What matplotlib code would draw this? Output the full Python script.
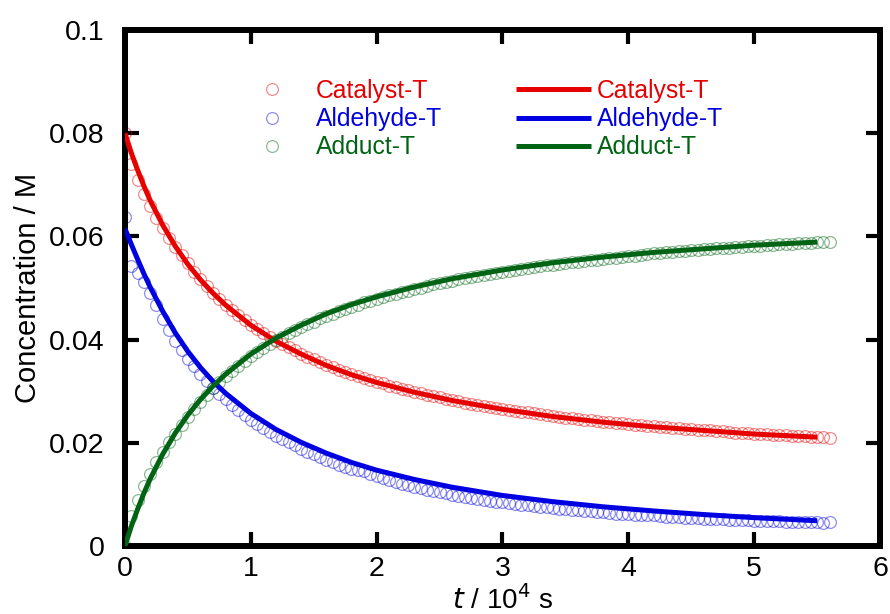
import numpy as np
import matplotlib
matplotlib.use("Agg")
import matplotlib.pyplot as plt
from matplotlib.lines import Line2D

plt.rcParams["font.family"] = ["Liberation Sans", "DejaVu Sans"]

# measurement times (10^4 s), one sample every 500 s
t_data = np.round(np.arange(0, 5.601, 0.05), 3)

catalyst_data = [
    0.0800, 0.0740, 0.0709, 0.0682, 0.0658, 0.0636, 0.0616, 0.0597, 0.0580, 0.0564,
    0.0548, 0.0532, 0.0518, 0.0504, 0.0491, 0.0479, 0.0468, 0.0458, 0.0448, 0.0438,
    0.0429, 0.0421, 0.0413, 0.0405, 0.0398, 0.0391, 0.0385, 0.0379, 0.0373, 0.0367,
    0.0362, 0.0356, 0.0351, 0.0347, 0.0342, 0.0338, 0.0334, 0.0330, 0.0326, 0.0322,
    0.0318, 0.0315, 0.0311, 0.0308, 0.0305, 0.0302, 0.0299, 0.0296, 0.0293, 0.0290,
    0.0288, 0.0285, 0.0283, 0.0281, 0.0278, 0.0276, 0.0274, 0.0272, 0.0270, 0.0268,
    0.0266, 0.0264, 0.0262, 0.0260, 0.0259, 0.0257, 0.0255, 0.0254, 0.0252, 0.0251,
    0.0249, 0.0248, 0.0247, 0.0245, 0.0244, 0.0243, 0.0241, 0.0240, 0.0239, 0.0238,
    0.0237, 0.0235, 0.0234, 0.0233, 0.0232, 0.0231, 0.0230, 0.0229, 0.0228, 0.0227,
    0.0226, 0.0225, 0.0224, 0.0224, 0.0223, 0.0222, 0.0221, 0.0220, 0.0220, 0.0219,
    0.0218, 0.0217, 0.0217, 0.0216, 0.0215, 0.0215, 0.0214, 0.0213, 0.0213, 0.0212,
    0.0212, 0.0211, 0.0210,
]
aldehyde_data = [
    0.0638, 0.0543, 0.0529, 0.0512, 0.0490, 0.0468, 0.0440, 0.0418, 0.0398, 0.0380,
    0.0363, 0.0348, 0.0333, 0.0320, 0.0307, 0.0295, 0.0284, 0.0274, 0.0264, 0.0254,
    0.0245, 0.0237, 0.0229, 0.0221, 0.0214, 0.0207, 0.0201, 0.0195, 0.0189, 0.0183,
    0.0178, 0.0172, 0.0167, 0.0163, 0.0158, 0.0153, 0.0149, 0.0148, 0.0146, 0.0140,
    0.0135, 0.0131, 0.0128, 0.0124, 0.0121, 0.0118, 0.0115, 0.0112, 0.0109, 0.0107,
    0.0104, 0.0102, 0.0099, 0.0097, 0.0095, 0.0093, 0.0092, 0.0090, 0.0088, 0.0086,
    0.0085, 0.0083, 0.0082, 0.0080, 0.0079, 0.0078, 0.0076, 0.0075, 0.0074, 0.0072,
    0.0071, 0.0070, 0.0069, 0.0068, 0.0067, 0.0066, 0.0065, 0.0064, 0.0063, 0.0062,
    0.0062, 0.0061, 0.0060, 0.0060, 0.0060, 0.0058, 0.0057, 0.0056, 0.0056, 0.0055,
    0.0054, 0.0054, 0.0053, 0.0053, 0.0052, 0.0052, 0.0051, 0.0051, 0.0050, 0.0050,
    0.0049, 0.0049, 0.0049, 0.0048, 0.0048, 0.0047, 0.0047, 0.0047, 0.0046, 0.0046,
    0.0046, 0.0045, 0.0046,
]
adduct_data = [
    0.0000, 0.0058, 0.0089, 0.0116, 0.0140, 0.0162, 0.0182, 0.0201, 0.0218, 0.0234,
    0.0250, 0.0265, 0.0279, 0.0293, 0.0306, 0.0318, 0.0329, 0.0339, 0.0349, 0.0359,
    0.0368, 0.0376, 0.0384, 0.0392, 0.0399, 0.0406, 0.0412, 0.0418, 0.0424, 0.0430,
    0.0435, 0.0441, 0.0446, 0.0450, 0.0455, 0.0459, 0.0464, 0.0468, 0.0472, 0.0475,
    0.0479, 0.0483, 0.0486, 0.0489, 0.0492, 0.0495, 0.0498, 0.0501, 0.0504, 0.0507,
    0.0509, 0.0512, 0.0514, 0.0517, 0.0519, 0.0521, 0.0523, 0.0525, 0.0527, 0.0529,
    0.0531, 0.0533, 0.0535, 0.0537, 0.0539, 0.0540, 0.0542, 0.0544, 0.0545, 0.0547,
    0.0548, 0.0550, 0.0551, 0.0553, 0.0554, 0.0555, 0.0557, 0.0558, 0.0559, 0.0561,
    0.0562, 0.0563, 0.0564, 0.0566, 0.0567, 0.0568, 0.0569, 0.0570, 0.0571, 0.0572,
    0.0573, 0.0574, 0.0575, 0.0576, 0.0577, 0.0578, 0.0578, 0.0579, 0.0580, 0.0581,
    0.0582, 0.0582, 0.0583, 0.0584, 0.0585, 0.0585, 0.0586, 0.0587, 0.0587, 0.0588,
    0.0589, 0.0589, 0.0590,
]

# fitted curves
t_fit = [0, 0.025, 0.05, 0.1, 0.15, 0.2, 0.3, 0.4, 0.5, 0.6, 0.7, 0.8, 1.0, 1.2,
         1.4, 1.6, 1.8, 2.0, 2.3, 2.6, 3.0, 3.4, 3.8, 4.2, 4.6, 5.0, 5.5]
catalyst_fit = [0.0800, 0.0781, 0.0762, 0.0729, 0.0698, 0.0670, 0.0622, 0.0581, 0.0546,
                0.0516, 0.0490, 0.0467, 0.0428, 0.0397, 0.0372, 0.0350, 0.0332, 0.0317,
                0.0298, 0.0282, 0.0265, 0.0251, 0.0240, 0.0231, 0.0224, 0.0217, 0.0211]
aldehyde_fit = [0.0615, 0.0600, 0.0585, 0.0556, 0.0528, 0.0502, 0.0455, 0.0413, 0.0377,
                0.0346, 0.0319, 0.0296, 0.0257, 0.0226, 0.0201, 0.0180, 0.0162, 0.0147,
                0.0129, 0.0114, 0.0098, 0.0086, 0.0076, 0.0068, 0.0061, 0.0055, 0.0049]
adduct_fit = [0.0000, 0.0019, 0.0038, 0.0071, 0.0102, 0.0130, 0.0178, 0.0219, 0.0254,
              0.0284, 0.0310, 0.0333, 0.0372, 0.0403, 0.0428, 0.0450, 0.0468, 0.0483,
              0.0502, 0.0518, 0.0535, 0.0549, 0.0560, 0.0569, 0.0576, 0.0583, 0.0589]

labels = ["Catalyst-T", "Aldehyde-T", "Adduct-T"]
colors = ["#e60000", "#0000e0", "#006414"]

fig = plt.figure(figsize=(8.9, 6.14), dpi=100)
ax = fig.add_axes([0.1404, 0.1107, 0.8484, 0.8404])

for y, c in zip([catalyst_data, aldehyde_data, adduct_data], colors):
    ax.plot(t_data, y, ls="none", marker="o", ms=8.5, mfc="none", mec=c,
            mew=0.9, alpha=0.45, zorder=2)
for y, c in zip([catalyst_fit, aldehyde_fit, adduct_fit], colors):
    ax.plot(t_fit, y, color=c, lw=3.6, solid_capstyle="butt", zorder=3)

ax.set_xlim(0, 6)
ax.set_ylim(0, 0.1)
ax.set_xticks(range(7))
ax.set_yticks([0, 0.02, 0.04, 0.06, 0.08, 0.1])
ax.set_yticklabels(["0", "0.02", "0.04", "0.06", "0.08", "0.1"])
for s in ax.spines.values():
    s.set_linewidth(4.3)
ax.tick_params(direction="in", length=10, width=3, top=True, right=True,
               labelsize=20.5, colors="black")
ax.tick_params(axis="x", pad=7)
ax.tick_params(axis="y", pad=14.5)
ax.set_ylabel("Concentration / M", fontsize=21, labelpad=5)
ax.set_xlabel(r"$\it{t}$ / 10$^{4}$ s", fontsize=20, labelpad=2.5)

handles = [Line2D([], [], ls="none", marker="o", ms=8.5, mfc="none", mec=c,
                  mew=0.9, alpha=0.45) for c in colors]
handles += [Line2D([], [], color=c, lw=3.6, solid_capstyle="butt") for c in colors]
leg = ax.legend(handles, labels + labels, ncol=2, frameon=False, fontsize=17.8,
                loc="upper left", bbox_to_anchor=(234.5 / 890, 1 - 79 / 614),
                bbox_transform=fig.transFigure, borderpad=0, borderaxespad=0,
                handlelength=3.04, handletextpad=0.24, columnspacing=3.0,
                labelspacing=0.17)
for txt, c in zip(leg.get_texts(), colors + colors):
    txt.set_color(c)

fig.savefig("out.png", dpi=100)
